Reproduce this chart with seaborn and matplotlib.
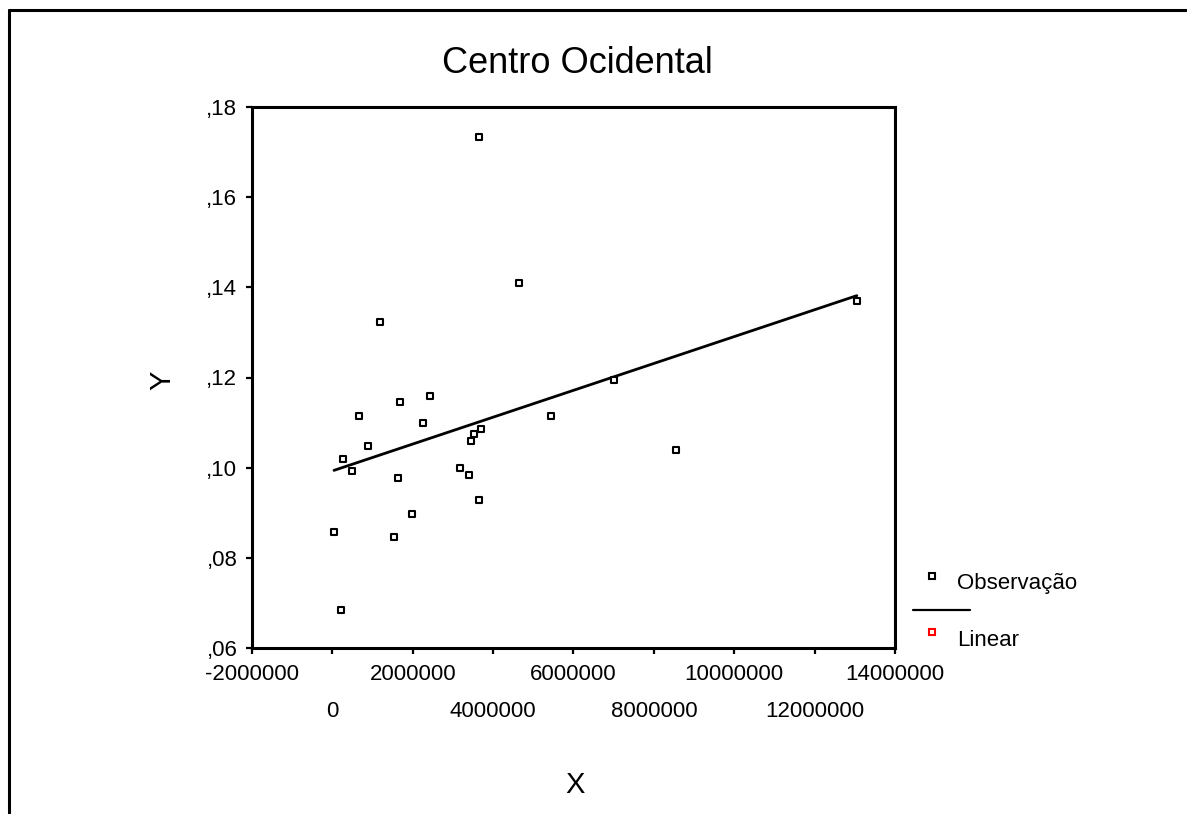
import numpy as np
import pandas as pd
import matplotlib
matplotlib.use("Agg")
import matplotlib.pyplot as plt
from matplotlib.lines import Line2D
import seaborn as sns

# ---- data ----
x_vals = [40000, 214000, 270000, 495000, 670000, 890000, 1180000, 1535000,
          1630000, 1690000, 1980000, 2260000, 2430000, 3180000, 3400000,
          3460000, 3520000, 3640000, 3690000, 3640000, 4650000, 5450000,
          7000000, 8540000, 13050000]
y_vals = [0.0857, 0.0684, 0.1019, 0.0993, 0.1115, 0.1049, 0.1323, 0.0846,
          0.0978, 0.1146, 0.0897, 0.1100, 0.1160, 0.0999, 0.0983, 0.1059,
          0.1075, 0.0928, 0.1085, 0.1734, 0.1410, 0.1115, 0.1195, 0.1039,
          0.1370]
x_ticks = [-2000000, 0, 2000000, 4000000, 6000000, 8000000, 10000000,
           12000000, 14000000]
x_tick_labels = ["-2000000", "0", "2000000", "4000000", "6000000",
                 "8000000", "10000000", "12000000", "14000000"]
y_ticks = [0.06, 0.08, 0.10, 0.12, 0.14, 0.16, 0.18]
y_tick_labels = [",06", ",08", ",10", ",12", ",14", ",16", ",18"]
title = "Centro Ocidental"
legend_labels = ["Observação", "Linear"]

df = pd.DataFrame({"X": x_vals, "Y": y_vals})

sns.set_theme(style="white")
plt.rcParams["font.family"] = ["Liberation Sans", "DejaVu Sans"]

W, H = 1187, 814
fig = plt.figure(figsize=(W / 100, H / 100), dpi=100)
fig.patch.set_facecolor("white")

L, R, T, B = 252, 895, 107, 648
ax = fig.add_axes([L / W, 1 - B / H, (R - L) / W, (B - T) / H])
ax.set_facecolor("white")

sns.regplot(data=df, x="X", y="Y", ax=ax, scatter=False, ci=None,
            truncate=True, line_kws=dict(color="black", lw=2.0))
sns.scatterplot(data=df, x="X", y="Y", ax=ax, marker="s", s=20,
                facecolor="white", edgecolor="black", linewidth=1.5,
                zorder=3)

ax.set_xlim(-2000000, 14000000)
ax.set_ylim(0.06, 0.18)
ax.set_xticks(x_ticks)
ax.set_xticklabels(x_tick_labels)
ax.set_yticks(y_ticks)
ax.set_yticklabels(y_tick_labels)
ax.set_xlabel("")
ax.set_ylabel("")

for sp in ax.spines.values():
    sp.set_visible(True)
    sp.set_color("black")
    sp.set_linewidth(2.2)

ax.tick_params(axis="both", which="major", direction="out", length=4.5,
               width=1.6, color="black", labelsize=16, labelcolor="black",
               bottom=True, left=True)
ax.tick_params(axis="x", pad=7)
ax.tick_params(axis="y", pad=6)
for i, tk in enumerate(ax.xaxis.get_major_ticks()):
    if i % 2 == 1:
        tk.set_pad(7 + 26.4)

# title and axis labels
fig.text(577 / W, 1 - 73 / H, title, ha="center", va="baseline",
         fontsize=26, color="black")
fig.text(575 / W, 1 - 793 / H, "X", ha="center", va="baseline",
         fontsize=21, color="black")
fig.text(162 / W, 1 - 380 / H, "Y", ha="center", va="center",
         rotation=90, fontsize=21, color="black")

# legend (drawn as in the reference)
fig.add_artist(Line2D([932 / W], [1 - 576 / H], marker="s", markersize=4.5,
                      markerfacecolor="white", markeredgecolor="black",
                      markeredgewidth=1.5, transform=fig.transFigure))
fig.text(957 / W, 1 - 589 / H, legend_labels[0], ha="left", va="baseline",
         fontsize=16, color="black")
fig.add_artist(Line2D([913 / W, 970 / W], [1 - 610 / H, 1 - 610 / H],
                      color="black", lw=1.6, transform=fig.transFigure))
fig.add_artist(Line2D([932 / W], [1 - 632 / H], marker="s", markersize=4.5,
                      markerfacecolor="white", markeredgecolor="red",
                      markeredgewidth=1.5, transform=fig.transFigure))
fig.text(957 / W, 1 - 646 / H, legend_labels[1], ha="left", va="baseline",
         fontsize=16, color="black")

# outer frame (left and top edges)
fig.add_artist(Line2D([9 / W, 9 / W], [0, 1 - 10 / H], color="black",
                      lw=2.2, transform=fig.transFigure))
fig.add_artist(Line2D([9 / W, 1], [1 - 10 / H, 1 - 10 / H], color="black",
                      lw=2.2, transform=fig.transFigure))

fig.savefig("out.png", dpi=100, facecolor="white")
